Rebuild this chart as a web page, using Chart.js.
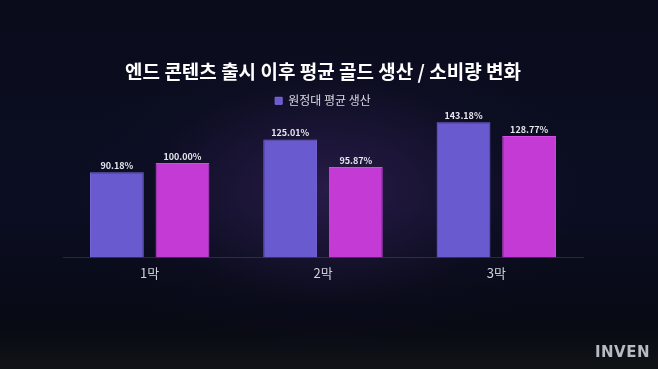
<!DOCTYPE html>
<html>
<head>
<meta charset="utf-8">
<script src="https://cdn.jsdelivr.net/npm/chart.js@4"></script>
<style>
  html, body { margin: 0; padding: 0; background: #070914; }
  #wrap { position: relative; width: 658px; height: 369px; overflow: hidden;
    background: radial-gradient(ellipse 260px 160px at 330px 190px, rgba(70,40,110,0.5), rgba(20,16,45,0.2) 70%, rgba(0,0,0,0) 100%),
                linear-gradient(180deg, #0a0c1c 0%, #0b0e22 55%, #080a14 88%, #101316 100%); }
  #inven { position: absolute; right: 8px; bottom: 8px; font: bold 15px "DejaVu Sans", sans-serif;
    color: #b7bcc2; letter-spacing: 0.5px; }
</style>
</head>
<body>
<div id="wrap">
  <canvas id="chart" width="658" height="369"></canvas>
  <div id="inven">INVEN</div>
</div>
<script>
// Chart data
const categories = ['1막', '2막', '3막'];
const productionLabel = '원정대 평균 생산';
const consumptionLabel = '원정대 평균 소비';
const productionValues = [90.18, 125.01, 143.18];
const consumptionValues = [100.00, 95.87, 128.77];

// Draw percent labels above each bar
const valueLabels = {
    id: 'valueLabels',
    afterDatasetsDraw(chart) {
        const ctx = chart.ctx;
        ctx.save();
        ctx.font = 'bold 9px "Noto Sans CJK KR", sans-serif';
        ctx.fillStyle = '#e6e6ee';
        ctx.textAlign = 'center';
        ctx.textBaseline = 'bottom';
        chart.data.datasets.forEach((ds, i) => {
            chart.getDatasetMeta(i).data.forEach((bar, j) => {
                ctx.fillText(ds.data[j].toFixed(2) + '%', bar.x, bar.y - 2);
            });
        });
        ctx.restore();
    }
};

new Chart(document.getElementById('chart'), {
    type: 'bar',
    data: {
        labels: categories,
        datasets: [
            {
                label: productionLabel,
                data: productionValues,
                backgroundColor: '#6a5ad0',
                borderColor: '#7b6be0',
                borderWidth: 1
            },
            {
                label: consumptionLabel,
                data: consumptionValues,
                backgroundColor: '#c33ad4',
                borderColor: '#d24be4',
                borderWidth: 1
            }
        ]
    },
    options: {
        responsive: false,
        animation: false,
        layout: { padding: { top: 60, left: 63, right: 75, bottom: 88 } },
        datasets: { bar: { categoryPercentage: 0.757, barPercentage: 0.82 } },
        plugins: {
            title: {
                display: true,
                text: '엔드 콘텐츠 출시 이후 평균 골드 생산 / 소비량 변화',
                color: '#ffffff',
                font: { family: '"Noto Sans CJK KR", sans-serif', size: 19, weight: 'bold' },
                padding: { top: 0, bottom: 4 }
            },
            legend: {
                display: true,
                labels: {
                    color: '#d8d8e4',
                    font: { family: '"Noto Sans CJK KR", sans-serif', size: 12 },
                    boxWidth: 7, boxHeight: 7,
                    padding: 8,
                    filter: item => item.datasetIndex === 0
                }
            },
            tooltip: { enabled: false }
        },
        scales: {
            x: {
                grid: { display: false },
                border: { color: 'rgba(255,255,255,0.12)' },
                ticks: { color: '#d0d0d8', font: { family: '"Noto Sans CJK KR", sans-serif', size: 13 }, padding: 0 }
            },
            y: {
                display: false,
                min: 0,
                max: 149
            }
        }
    },
    plugins: [valueLabels]
});
</script>
</body>
</html>
